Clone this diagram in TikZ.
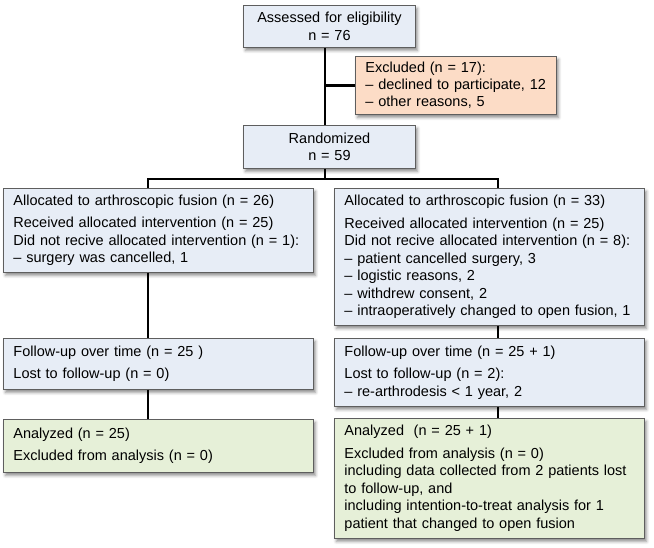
\documentclass[tikz,border=0pt]{standalone}
\usepackage{fontspec}
\setmainfont{Liberation Sans}
\usetikzlibrary{shadows.blur}
\definecolor{bluefill}{HTML}{E7EDF6}
\definecolor{greenfill}{HTML}{E6F0D8}
\definecolor{orangefill}{HTML}{FCDCC6}
\definecolor{boxline}{HTML}{5E5E5E}
\begin{document}
\begin{tikzpicture}[x=1pt,y=-1pt,
  every node/.style={font=\fontsize{14.5}{17.5}\selectfont},
  box/.style={draw=boxline, line width=0.9pt, anchor=north west, align=left,
    inner xsep=10pt, inner ysep=0pt,
    blur shadow={shadow xshift=2pt, shadow yshift=-3pt, shadow blur radius=3pt, shadow opacity=45}},
  bluebox/.style={box, fill=bluefill},
  greenbox/.style={box, fill=greenfill},
  orangebox/.style={box, fill=orangefill},
  conn/.style={draw=black, line width=2.6pt}]
\useasboundingbox (0,0) rectangle (654,548);

\node[bluebox, align=center, text width=152pt, minimum height=42pt] (assess) at (243,5)
  {Assessed for eligibility\\ n = 76};
\node[orangebox, text width=181pt, minimum height=58pt,
  font=\fontsize{14.5}{17}\selectfont] (excl) at (355,56)
  {Excluded (n = 17):\\ – declined to participate, 12\\ – other reasons, 5};
\node[bluebox, align=center, text width=152pt, minimum height=43pt] (rand) at (243,125)
  {Randomized\\ n = 59};

\node[bluebox, text width=290pt, minimum height=84pt] (alloc1) at (3,188)
  {Allocated to arthroscopic fusion (n = 26)\\[5pt]
   Received allocated intervention (n = 25)\\
   Did not recive allocated intervention (n = 1):\\
   – surgery was cancelled, 1};
\node[bluebox, text width=290pt, minimum height=137pt] (alloc2) at (334,188)
  {Allocated to arthroscopic fusion (n = 33)\\[5pt]
   Received allocated intervention (n = 25)\\
   Did not recive allocated intervention (n = 8):\\
   – patient cancelled surgery, 3\\
   – logistic reasons, 2\\
   – withdrew consent, 2\\
   – intraoperatively changed to open fusion, 1};

\node[bluebox, text width=290pt, minimum height=51pt] (fu1) at (3,338)
  {Follow-up over time (n = 25 )\\[5pt]
   Lost to follow-up (n = 0)};
\node[bluebox, text width=290pt, minimum height=68pt] (fu2) at (334,338)
  {Follow-up over time (n = 25 + 1)\\[5pt]
   Lost to follow-up (n = 2):\\
   – re-arthrodesis < 1 year, 2};

\node[greenbox, text width=290pt, minimum height=53pt] (an1) at (3,419)
  {Analyzed (n = 25)\\[5pt]
   Excluded from analysis (n = 0)};
\node[greenbox, text width=290pt, minimum height=120pt] (an2) at (334,418)
  {Analyzed \ (n = 25 + 1)\\[5pt]
   Excluded from analysis (n = 0)\\
   including data collected from 2 patients lost\\
   to follow-up, and\\
   including intention-to-treat analysis for 1\\
   patient that changed to open fusion};

\coordinate (cx) at (325,0);
\coordinate (lx) at (148,0);
\coordinate (rx) at (498,0);
\coordinate (split) at (325,179);

\draw[conn] (assess.south -| cx) -- (rand.north -| cx);
\draw[conn] (excl.west -| cx) -- (excl.west);
\draw[conn] (rand.south -| cx) -- (split);
\draw[conn] (alloc1.north -| lx) |- (split) -| (alloc2.north -| rx);
\draw[conn] (alloc1.south -| lx) -- (fu1.north -| lx);
\draw[conn] (alloc2.south -| rx) -- (fu2.north -| rx);
\draw[conn] (fu1.south -| lx) -- (an1.north -| lx);
\draw[conn] (fu2.south -| rx) -- (an2.north -| rx);
\end{tikzpicture}
\end{document}
